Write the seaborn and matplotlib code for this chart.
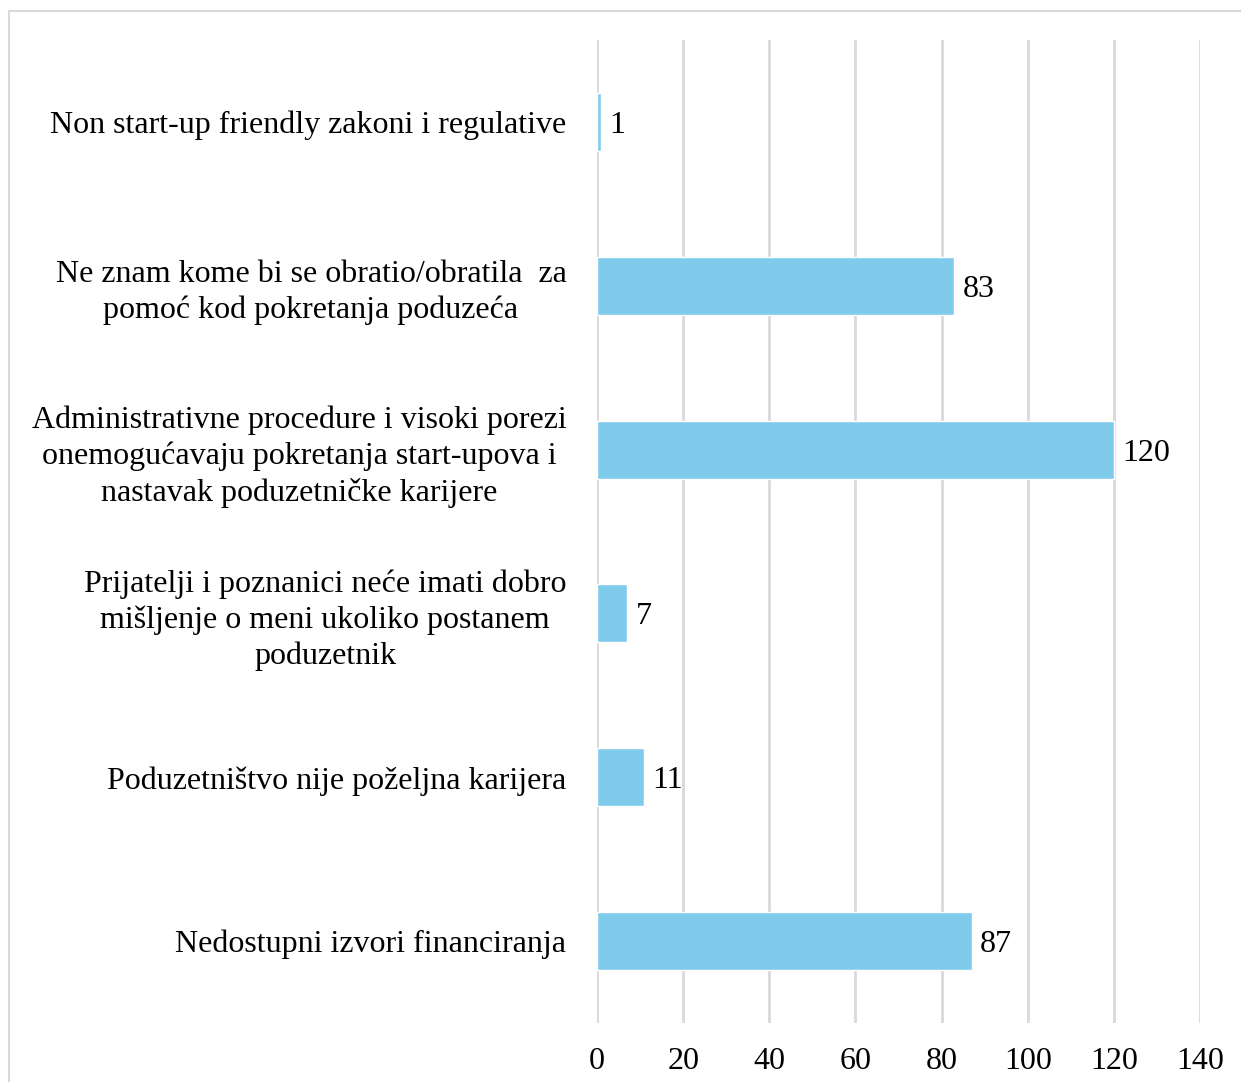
import matplotlib.pyplot as plt
import pandas as pd
import seaborn as sns
from matplotlib.patches import Rectangle

categories = [
    "Non start-up friendly zakoni i regulative",
    "Ne znam kome bi se obratio/obratila  za\npomoć kod pokretanja poduzeća",
    "Administrativne procedure i visoki porezi\nonemogućavaju pokretanja start-upova i\nnastavak poduzetničke karijere",
    "Prijatelji i poznanici neće imati dobro\nmišljenje o meni ukoliko postanem\npoduzetnik",
    "Poduzetništvo nije poželjna karijera",
    "Nedostupni izvori financiranja",
]
counts = [1, 83, 120, 7, 11, 87]
x_ticks = [0, 20, 40, 60, 80, 100, 120, 140]

BAR_COLOR = "#80CBEB"
GRID_COLOR = "#D9D9D9"
FS = 23

df = pd.DataFrame({"category": categories, "count": counts})

sns.set_style("white")
plt.rcParams["font.family"] = ["Liberation Serif", "DejaVu Serif"]
plt.rcParams["text.color"] = "black"
plt.rcParams["xtick.color"] = "black"
plt.rcParams["ytick.color"] = "black"

W, H = 1241, 1082
fig = plt.figure(figsize=(W / 100, H / 100), dpi=100)
ax = fig.add_axes([597 / W, 1 - 1023 / H, (1200 - 597) / W, (1023 - 40) / H])

sns.barplot(data=df, x="count", y="category", color=BAR_COLOR, width=0.355,
            saturation=1, ax=ax)

ax.set_xlim(0, 140)
ax.set_xticks(x_ticks)
ax.set_xlabel("")
ax.set_ylabel("")
for s in ax.spines.values():
    s.set_visible(False)
ax.grid(axis="x", color=GRID_COLOR, linewidth=2)
ax.set_axisbelow(True)
ax.tick_params(axis="x", length=0, pad=17, labelsize=FS)
ax.tick_params(axis="y", length=0, pad=22, labelsize=FS)
for lbl in ax.get_yticklabels():
    lbl.set_multialignment("center")
    lbl.set_linespacing(1.3)

# value labels at the end of each bar
for bar, v in zip(ax.patches, counts):
    ax.annotate(str(v), (bar.get_width(), bar.get_y() + bar.get_height() / 2),
                xytext=(6, 0), textcoords="offset points",
                ha="left", va="center_baseline", fontsize=FS)

# light frame around the chart area (right/bottom cut off in the source)
fig.add_artist(Rectangle((9 / W, -0.1), 1.2, 1 - 11 / H + 0.1,
                         transform=fig.transFigure, fill=False,
                         edgecolor=GRID_COLOR, linewidth=1.5))

fig.savefig("out.png", dpi=100)
